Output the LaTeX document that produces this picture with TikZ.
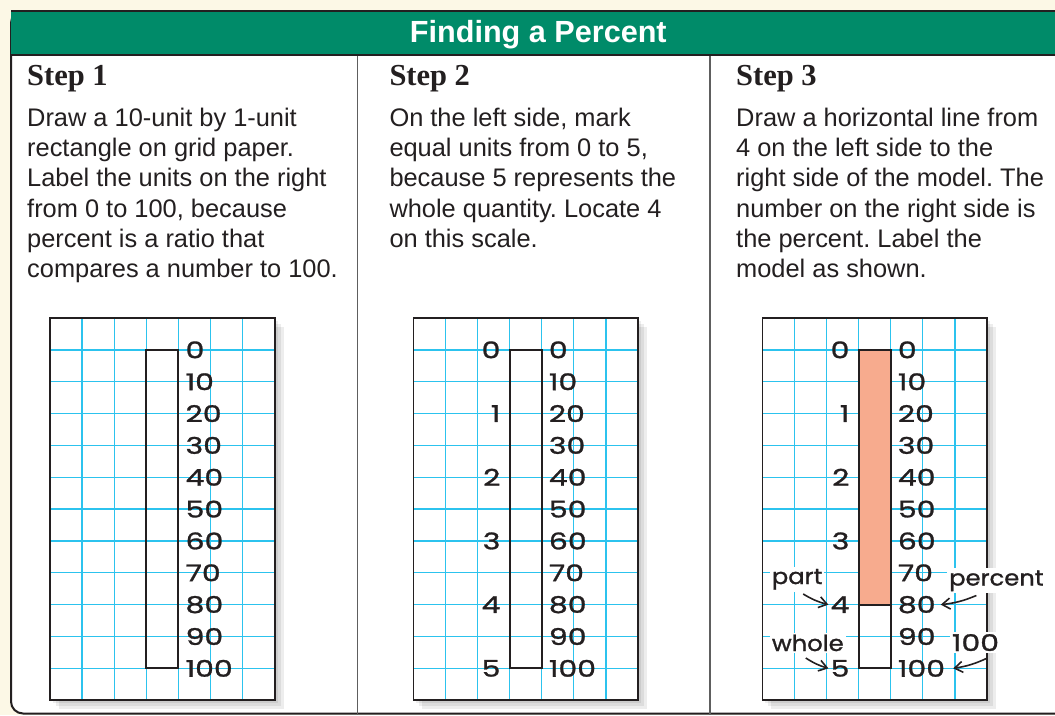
\documentclass[tikz,border=0pt]{standalone}
\usepackage{fontspec}
\setmainfont{Liberation Sans}
\newfontfamily\stepfont{Liberation Serif}
\newfontfamily\handfont[FakeBold=1.2,FakeStretch=1.3]{Poppins}
\newfontfamily\tagfont[FakeBold=1.2,FakeStretch=1.1]{Poppins}
\usetikzlibrary{
	arrows.meta,
	positioning,
	calc
}

\definecolor{cream}{HTML}{FCF8E6}
\definecolor{bargreen}{HTML}{008B69}
\definecolor{gridblue}{HTML}{2CC3EE}
\definecolor{salmon}{HTML}{F7AB8E}
\definecolor{inkdark}{HTML}{231F20}
\definecolor{rulegray}{HTML}{5E5E5E}

\tikzset{
    gridline/.style={gridblue, line width=1.3pt},
    gridframe/.style={draw=inkdark, line width=1.6pt},
    barrect/.style={draw=inkdark, line width=2pt},
    numlbl/.style={font=\handfont\fontsize{23}{23}\selectfont, text=inkdark, inner sep=1pt},
    tag/.style={font=\tagfont\fontsize{22}{22}\selectfont, text=inkdark, fill=white, inner sep=2pt, anchor=base west},
    steptitle/.style={font=\stepfont\bfseries\fontsize{30.5}{30.5}\selectfont, text=inkdark, anchor=base west, inner sep=0pt},
    steptext/.style={font=\frenchspacing\fontsize{25.4}{30.3}\selectfont, text=inkdark, align=left, anchor=north west, inner sep=0pt},
    callout/.style={draw=inkdark, line width=1.6pt, -{Straight Barb[length=8pt,width=11pt]}}
}

% cell width and height of the grid paper (in pt)
\def\cw{32.1}
\def\ch{31.85}

% Helper macro for one model on grid paper
% Arguments: left edge, name prefix, rows filled (1 = none)
\def\modelgrid#1#2#3{
    \begin{scope}[shift={(#1,318)}]
    % Shadow
    \foreach \s in {3,6,9}
        \fill[black, opacity=0.07] (\s,\s) rectangle (7*\cw+\s, 12*\ch+\s);
    % Paper and grid lines
    \fill[white] (0,0) rectangle (7*\cw, 12*\ch);
    \foreach \i in {1,...,6}
        \draw[gridline] (\i*\cw, 0) -- (\i*\cw, 12*\ch);
    \foreach \j in {1,...,11}
        \draw[gridline] (0, \j*\ch) -- (7*\cw, \j*\ch);
    % Shaded part of the bar
    \fill[salmon] (3*\cw, \ch) rectangle (4*\cw, #3*\ch);
    % Bar and frame
    \draw[barrect] (3*\cw, \ch) rectangle (4*\cw, 11*\ch);
    \draw[gridframe] (0,0) rectangle (7*\cw, 12*\ch);
    % Percent scale on the right
    \foreach \k in {0,...,10} {
        \pgfmathtruncatemacro\val{10*\k}
        \node[numlbl, anchor=west] (#2r\k) at (4*\cw+6, \k*\ch+\ch) {\val};
    }
    \end{scope}
}

\begin{document}
\begin{tikzpicture}[x=1pt, y=-1pt]

\useasboundingbox (0,0) rectangle (1055,715);
\clip (0,0) rectangle (1055,715);
\fill[cream] (0,0) rectangle (1055,715);

% Outer panel and title bar
\draw[fill=white, draw=inkdark, line width=2pt, rounded corners=12pt] (11,11) rectangle (1090,713.5);
\fill[bargreen] (11,11) rectangle (1090,54.7);
\draw[inkdark, line width=2pt] (11,11) -- (1090,11);
\draw[inkdark, line width=2.4pt] (11,54.7) -- (1090,54.7);
\node[font=\bfseries\fontsize{30.6}{30.6}\selectfont, text=white, anchor=base, inner sep=0pt] (title) at (538.3,42.7) {Finding a Percent};

% Column rules
\draw[rulegray, line width=1.5pt] (357.3,56) -- (357.3,715);
\draw[rulegray, line width=1.5pt] (710,56) -- (710,715);

% Step headings
\node[steptitle] (step1) at (27,85) {Step 1};
\node[steptitle] (step2) at (389.3,85) {Step 2};
\node[steptitle] (step3) at (736,85) {Step 3};

% Step texts
\node[steptext] (text1) at (27,107.5) {Draw a 10-unit by 1-unit\\rectangle on grid paper.\\Label the units on the right\\from 0 to 100, because\\percent is a ratio that\\compares a number to 100.};
\node[steptext] (text2) at (389.3,107.5) {On the left side, mark\\equal units from 0 to 5,\\because 5 represents the\\whole quantity. Locate 4\\on this scale.};
\node[steptext] (text3) at (736,107.5) {Draw a horizontal line from\\4 on the left side to the\\right side of the model. The\\number on the right side is\\the percent. Label the\\model as shown.};

% Step 1 model
\modelgrid{50}{s1}{1}

% Step 2 model, units 0 to 5 on the left
\modelgrid{413.3}{s2}{1}
\foreach \k in {0,...,5}
    \node[numlbl, anchor=east] (s2l\k) at (413.3+3*\cw-8, 318+2*\k*\ch+\ch) {\k};

% Step 3 model, shaded to 4 (80)
\modelgrid{762.3}{s3}{9}
\draw[barrect] (762.3+3*\cw, 318+9*\ch) -- (762.3+4*\cw, 318+9*\ch);
\foreach \k in {0,...,5}
    \node[numlbl, anchor=east] (s3l\k) at (762.3+3*\cw-8, 318+2*\k*\ch+\ch) {\k};

% Step 3 tags and arrows
\node[tag] (part) at (769.7,584) {part};
\node[tag] (whole) at (769.7,651) {whole};
\node[tag] (percent) at (947,585.5) {percent};
\node[tag, font=\handfont\fontsize{23}{23}\selectfont] (hundred) at (949.7,651) {100};
\draw[callout] ([xshift=6pt,yshift=-10pt]part.base) to[bend right=8] ([xshift=-1pt]s3l4.west);
\draw[callout] ([xshift=-2pt,yshift=-7pt]whole.base) to[bend right=8] ([xshift=-1pt]s3l5.west);
\draw[callout] ([xshift=-20pt,yshift=-10pt]percent.base) to[bend left=8] ([xshift=4pt]s3r8.east);
\draw[callout] ([xshift=12pt,yshift=-7pt]hundred.base) to[bend left=8] ([xshift=7pt]s3r10.east);

\end{tikzpicture}
\end{document}
